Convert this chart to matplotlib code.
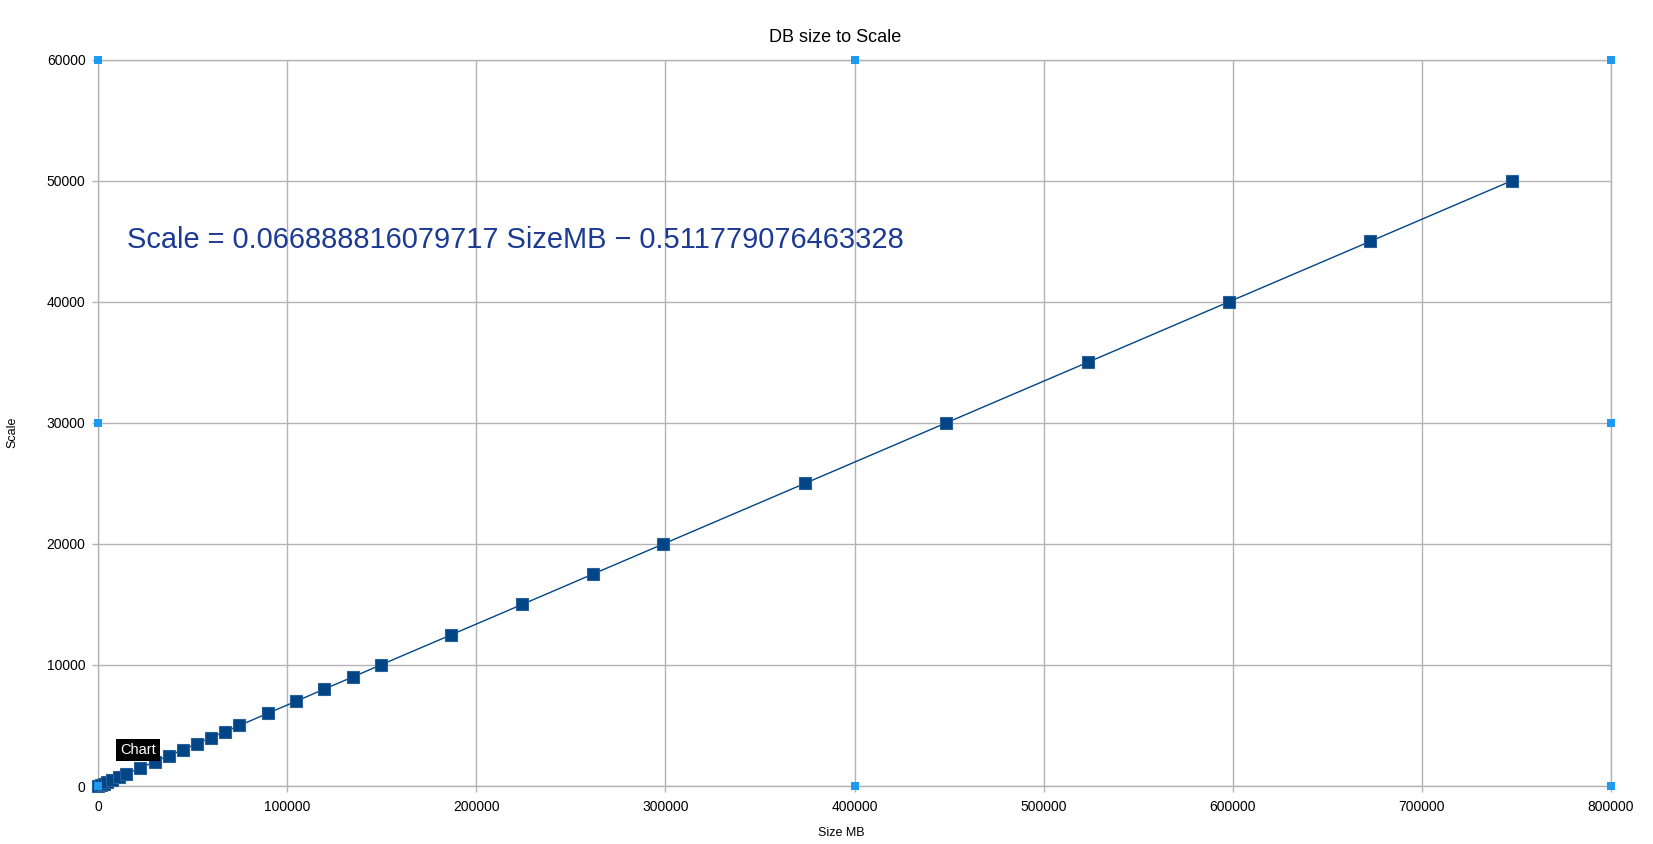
import matplotlib
matplotlib.use("Agg")
import matplotlib.pyplot as plt

plt.rcParams['font.family'] = ['Liberation Sans', 'DejaVu Sans']

# Data
size_mb = [0, 1500, 3000, 4500, 7500, 11200, 15000, 22400, 29900, 37400, 44900,
           52300, 59800, 67300, 74800, 89700, 104700, 119600, 134600, 149500,
           186900, 224300, 261600, 299000, 373800, 448500, 523300, 598000,
           672800, 747500]
scale = [0, 100, 200, 300, 500, 750, 1000, 1500, 2000, 2500, 3000,
         3500, 4000, 4500, 5000, 6000, 7000, 8000, 9000, 10000,
         12500, 15000, 17500, 20000, 25000, 30000, 35000, 40000,
         45000, 50000]

x_ticks = list(range(0, 800001, 100000))
y_ticks = list(range(0, 60001, 10000))

handle_x = [0, 400000, 800000, 0, 800000, 0, 400000, 800000]
handle_y = [60000, 60000, 60000, 30000, 30000, 0, 0, 0]

title = "DB size to Scale"
equation = "Scale = 0.066888816079717 SizeMB \u2212 0.511779076463328"

W, H = 1653, 844
fig = plt.figure(figsize=(W / 100, H / 100), dpi=100)
left, right, bottom, top = 98, 1611, 786, 59.7
ax = fig.add_axes([left / W, 1 - bottom / H, (right - left) / W, (bottom - top) / H])

grid_c = '#b3b3b3'
ax.set_xlim(0, 800000)
ax.set_ylim(0, 60000)
ax.set_xticks(x_ticks)
ax.set_yticks(y_ticks)
ax.set_xticklabels([str(v) for v in x_ticks])
ax.set_yticklabels([str(v) for v in y_ticks])
ax.grid(True, color=grid_c, linewidth=1.0)
ax.set_axisbelow(True)
for s in ax.spines.values():
    s.set_color(grid_c)
    s.set_linewidth(1.0)
ax.tick_params(axis='both', which='both', direction='out', length=4, width=1,
               color=grid_c, labelsize=10, labelcolor='black')
ax.tick_params(axis='x', pad=6)
ax.tick_params(axis='y', pad=5)

ax.plot(size_mb, scale, color='#004586', linewidth=1.0, marker='s',
        markersize=8.5, markerfacecolor='#004586', markeredgecolor='#2a6099',
        markeredgewidth=0.8, zorder=3, clip_on=False)

ax.scatter(handle_x, handle_y, marker='s', s=40, color='#1e9af0', zorder=5,
           clip_on=False, linewidths=0)

ax.text(15500, 45100, equation, fontsize=20.9, color='#1c3a94',
        va='center', ha='left')

fig.text(835 / W, 1 - 38 / H, title, fontsize=13, ha='center', va='center')
fig.text(841 / W, 1 - 833 / H, "Size MB", fontsize=9, ha='center', va='center')
fig.text(12.6 / W, 1 - 432 / H, "Scale", fontsize=9, ha='center', va='center',
         rotation=90)

fig.text(138 / W, 1 - 750 / H, "Chart", fontsize=10.5, color='white',
         ha='center', va='center',
         bbox=dict(boxstyle='square,pad=0.25', facecolor='black', edgecolor='none'))

fig.savefig('out.png', dpi=100, facecolor='white')
